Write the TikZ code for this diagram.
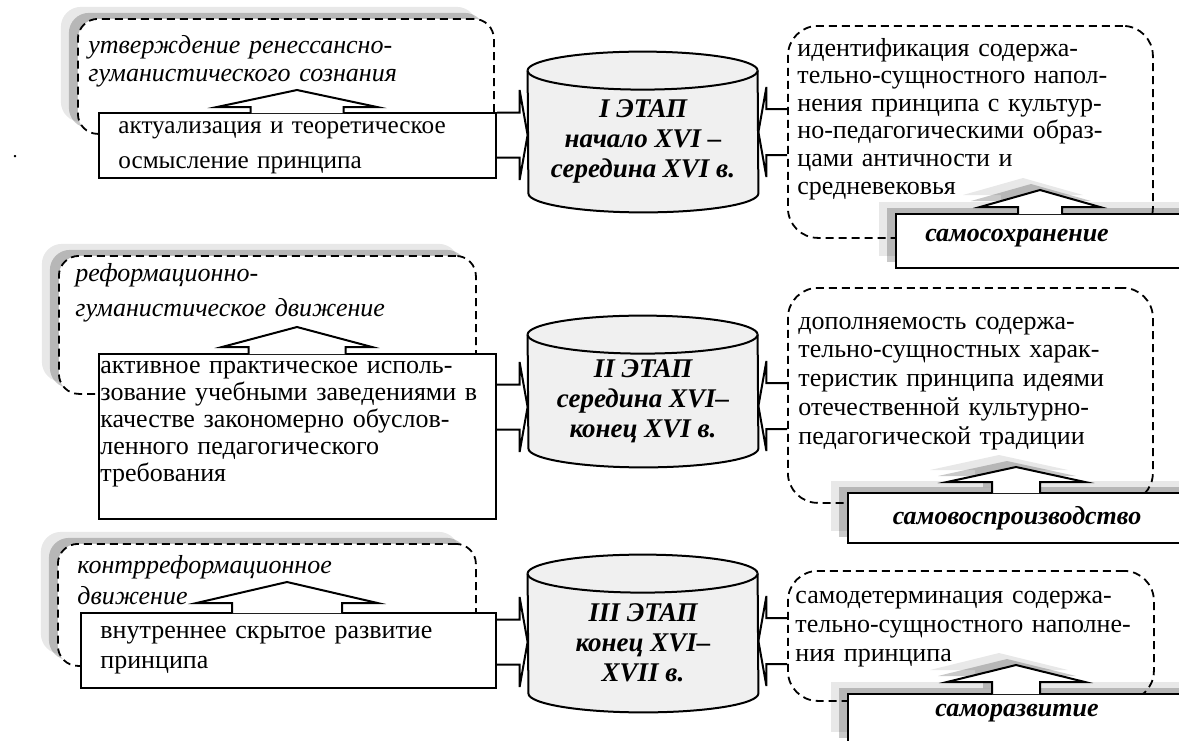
\documentclass[tikz,border=0pt]{standalone}
\usepackage{fontspec}
\setmainfont{Liberation Serif}
\usetikzlibrary{calc,backgrounds,shadows}

% up-arrow callout on top of a box: node, x, stem half, head half, base, apex
\newcommand{\calloutup}[7][]{%
  \draw[beak,#1] ($(#3,0 |- #2.north)+(-#4,1)$) -- ++(0,-1-#6) -- ++(#4-#5,0)
    -- ($(#3,0 |- #2.north)+(0,-#7)$) -- ($(#3,0 |- #2.north)+(#5,-#6)$) -- ++(#4-#5,0) -- ++(0,1+#6);}
% block arrow from a box into a stage: box, stage, row
\newcommand{\tostage}[3]{%
  \draw[flow] ($(#1.east |- 0,#3)+(0,-22.5)$) -| ($(#2.west |- 0,#3)+(-8,-45)$)
    -- (#2.west |- 0,#3) -- ($(#2.west |- 0,#3)+(-8,45)$) |- ($(#1.east |- 0,#3)+(0,22.5)$);}
\newcommand{\fromres}[3]{%
  \draw[flow] ($(#1.west |- 0,#3)+(0,-23)$) -| ($(#2.east |- 0,#3)+(8,-45)$)
    -- (#2.east |- 0,#3) -- ($(#2.east |- 0,#3)+(8,45)$) |- ($(#1.west |- 0,#3)+(0,23)$);}
% cylinder behind a stage node
\newcommand{\drum}[1]{%
  \begin{scope}[on background layer]
    \filldraw[drumline] (#1.north west) arc[start angle=180,end angle=0,x radius=57.5pt,y radius=9.5pt]
      -- ($(#1.south east)+(0,-19)$) arc[start angle=0,end angle=-180,x radius=57.5pt,y radius=9.5pt] -- cycle;
    \draw[drumline] (#1.north west) arc[start angle=180,end angle=360,x radius=57.5pt,y radius=9.5pt];
  \end{scope}}

\begin{document}
\begin{tikzpicture}[
  x=0.5pt, y=-0.5pt,
  softshadow/.style={general shadow={fill=black, opacity=.09, shadow xshift=-8.5pt, shadow yshift=6pt},
                     general shadow={fill=black, opacity=.21, shadow xshift=-4.5pt, shadow yshift=3pt}},
  plan/.style={draw, line width=.9pt, dash pattern=on 4pt off 2.5pt, rounded corners=10pt, fill=white, softshadow, inner sep=0, anchor=north west},
  outcome/.style={draw, line width=.9pt, dash pattern=on 4pt off 2.5pt, rounded corners=15pt, inner sep=0, anchor=north west},
  act/.style={draw, line width=1pt, fill=white, inner sep=0, anchor=north west},
  mode/.style={draw, line width=1pt, fill=white, softshadow, inner sep=0, anchor=north west},
  stage/.style={minimum width=115pt, inner sep=0, align=center, font=\fontsize{13.5}{15}\selectfont\bfseries\itshape},
  txt/.style={anchor=base west, inner sep=0, text width=220pt, align=left},
  modetxt/.style={inner sep=0, font=\fontsize{13}{14}\selectfont\bfseries\itshape},
  beak/.style={draw, line width=1pt, fill=white, line join=miter},
  flow/.style={draw, line width=1pt},
  drumline/.style={draw, line width=1pt, fill=black!6}
]
\useasboundingbox (0,0) rectangle (1179,740);
\clip (0,0) rectangle (1179,740);

\node[anchor=base, inner sep=0] (stray) at (15,157) {.};

% stage I
\node[plan, minimum width=208pt, minimum height=57.5pt] (aim1) at (77,18) {};
\node[txt, font=\fontsize{13}{14}\selectfont\itshape] (aimtxt1) at (88,53) {утверждение ренессансно-\\гуманистического сознания};
\node[act, minimum width=198.5pt, minimum height=32.5pt] (act1) at (98,112) {};
\calloutup{act1}{297}{46.5}{80}{5}{22}
\node[txt, font=\fontsize{12.6}{17.5}\selectfont] (acttxt1) at (118,133) {актуализация и теоретическое\\осмысление принципа};
\node[stage, minimum height=70.5pt] (stage1) at (643,141.5) {I ЭТАП\\начало XVI –\\середина XVI в.};
\drum{stage1}
\tostage{act1}{stage1}{135}
\node[outcome, minimum width=182.5pt, minimum height=106pt] (res1) at (787,25) {};
\node[txt, font=\fontsize{13}{13.8}\selectfont] (restxt1) at (797,56) {идентификация содержа-\\тельно-сущностного напол-\\нения принципа с культур-\\но-педагогическими образ-\\цами античности и\\средневековья};
\fromres{res1}{stage1}{132}
\node[mode, minimum width=160pt, minimum height=27pt] (mode1) at (895,213) {};
\calloutup[softshadow]{mode1}{1040}{22}{60}{6}{23}
\node[modetxt] (modetxt1) at (1017,238) {самосохранение};

% stage II
\node[plan, minimum width=208.5pt, minimum height=69pt] (aim2) at (58,255) {};
\node[txt, font=\fontsize{13}{17.5}\selectfont\itshape] (aimtxt2) at (75,281) {реформационно-\\гуманистическое движение};
\node[act, minimum width=198.5pt, minimum height=82.5pt] (act2) at (98,353) {};
\calloutup{act2}{297}{48.5}{75}{6}{26}
\node[txt, font=\fontsize{13}{13.5}\selectfont] (acttxt2) at (100,373) {активное практическое исполь-\\зование учебными заведениями в\\качестве закономерно обуслов-\\ленного педагогического\\требования};
\node[stage, minimum height=66pt] (stage2) at (643,401) {II ЭТАП\\середина XVI–\\конец XVI в.};
\drum{stage2}
\tostage{act2}{stage2}{407}
\node[outcome, minimum width=182.5pt, minimum height=107.5pt] (res2) at (787,287) {};
\node[txt, font=\fontsize{13}{14.4}\selectfont] (restxt2) at (798,329) {дополняемость содержа-\\тельно-сущностных харак-\\теристик принципа идеями\\отечественной культурно-\\педагогической традиции};
\fromres{res2}{stage2}{406}
\node[mode, minimum width=184pt, minimum height=25pt] (mode2) at (847,492) {};
\calloutup[softshadow]{mode2}{1016}{24}{69}{10}{25}
\node[modetxt] (modetxt2) at (1017,518) {самовоспроизводство};

% stage III
\node[plan, minimum width=209pt, minimum height=61pt] (aim3) at (57,543) {};
\node[txt, font=\fontsize{13}{15.5}\selectfont\itshape] (aimtxt3) at (77,573) {контрреформационное\\движение};
\node[act, minimum width=207.5pt, minimum height=37.5pt] (act3) at (80,612) {};
\calloutup{act3}{287}{55}{90.5}{9}{30}
\node[txt, font=\fontsize{13}{15}\selectfont] (acttxt3) at (100,638) {внутреннее скрытое развитие\\принципа};
\node[stage, minimum height=69pt] (stage3) at (643,643) {III ЭТАП\\конец XVI–\\XVII в.};
\drum{stage3}
\tostage{act3}{stage3}{642}
\node[outcome, minimum width=183pt, minimum height=65pt] (res3) at (787,570) {};
\node[txt, font=\fontsize{13}{14.5}\selectfont] (restxt3) at (795,603) {самодетерминация содержа-\\тельно-сущностного наполне-\\ния принципа};
\fromres{res3}{stage3}{641}
\node[mode, minimum width=184pt, minimum height=25pt] (mode3) at (847,693) {};
\calloutup[softshadow]{mode3}{1016}{24}{69}{11}{28}
\node[modetxt] (modetxt3) at (1017,713) {саморазвитие};
\end{tikzpicture}
\end{document}
